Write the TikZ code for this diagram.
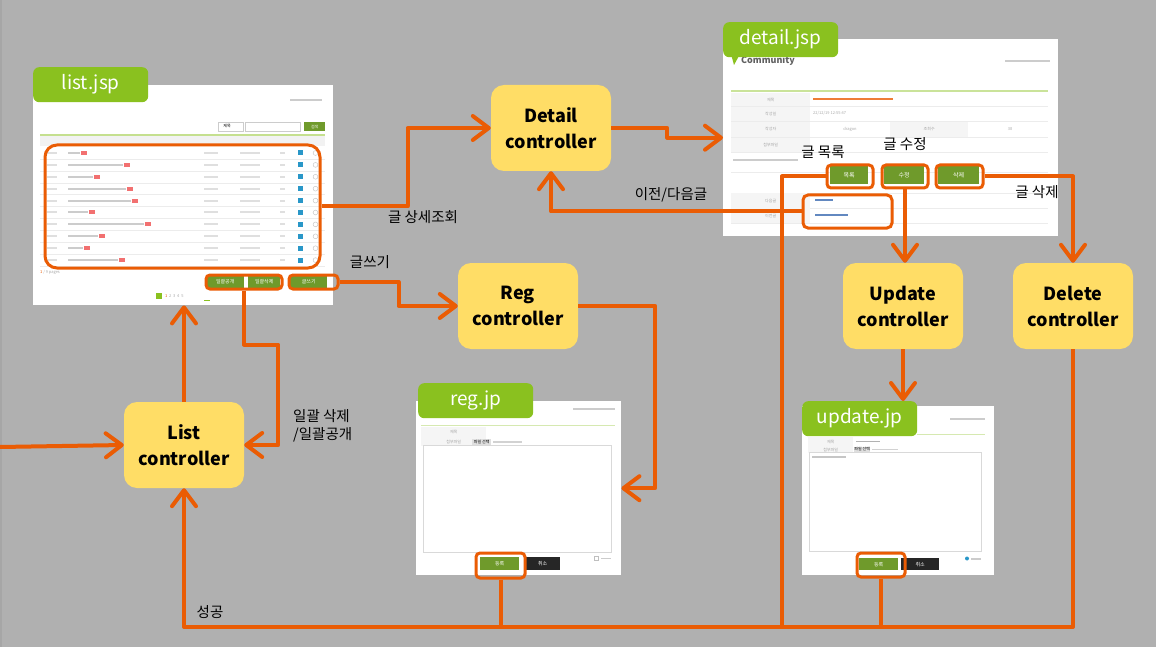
\documentclass[tikz,border=0pt]{standalone}
\usepackage{fontspec}
\setmainfont{Noto Sans CJK KR}
\usetikzlibrary{arrows.meta,positioning}
\definecolor{bgc}{HTML}{B0B0B0}
\definecolor{flowc}{HTML}{EA5C04}
\definecolor{ctlc}{HTML}{FFDD66}
\definecolor{tabc}{HTML}{8AC11F}
\definecolor{btnc}{HTML}{6F9A2B}
\definecolor{linkc}{HTML}{3B6AB0}
\definecolor{redc}{HTML}{F27070}
\tikzset{
  ctl/.style={fill=ctlc, rounded corners=13pt, minimum width=120pt, minimum height=86pt,
    align=center, font=\bfseries\fontsize{18}{26}\selectfont},
  page/.style={fill=white, inner sep=0pt, anchor=north west},
  pagetab/.style={fill=tabc, rounded corners=6pt, inner sep=0pt, anchor=north west,
    minimum width=115pt, minimum height=35pt, text=white, font=\fontsize{19}{20}\selectfont},
  hl/.style={draw=flowc, line width=3pt, rounded corners=4pt, inner sep=0pt, anchor=north west},
  btn/.style={fill=btnc, text=white, inner sep=0pt, anchor=north west, font=\fontsize{5}{5}\selectfont},
  cell/.style={fill=gray!8, inner sep=0pt, anchor=north west, text=gray!70, font=\fontsize{4}{4}\selectfont},
  tinytxt/.style={inner sep=0pt, text=gray!65, font=\fontsize{4}{4}\selectfont},
  bar/.style={fill=gray!40},
  flow/.style={draw=flowc, line width=4pt, line join=round},
  arr/.style={-{Straight Barb[length=16pt,width=24pt,round]}},
  lbl/.style={inner sep=0pt, font=\fontsize{14.5}{18}\selectfont}
}
\begin{document}
\begin{tikzpicture}[x=1pt,y=-1pt]
\useasboundingbox (0,0) rectangle (1156,647);
\fill[bgc] (0,0) rectangle (1156,647);
\fill[gray!70] (0,0) rectangle (2,647);

% list.jsp
\node[page, minimum width=300pt, minimum height=220pt] (listpage) at (33,85) {};
\fill[bar] (290,99) rectangle (322,101.5);
\draw[gray!40, line width=.4pt] (218,122) rectangle (243,131);
\node[tinytxt, text=black] (searchsel) at (227,126.5) {제목};
\draw[gray!40, line width=.4pt] (245,122) rectangle (300,131);
\node[btn, minimum width=21pt, minimum height=9pt, font=\fontsize{4}{4}\selectfont] (searchbtn) at (304,122) {검색};
\draw[tabc!50, line width=1.2pt] (40,135) -- (325,135);
\fill[gray!10] (40,136.5) rectangle (325,146);
\foreach \w [count=\i from 0] in {12,55,25,58,63,20,76,30,15,50} {
  \pgfmathsetmacro\ry{153+11.9*\i}
  \draw[gray!15, line width=.4pt] (40,\ry+6) -- (325,\ry+6);
  \fill[gray!25] (47,\ry-1) rectangle (57,\ry+1);
  \fill[bar] (68,\ry-1) rectangle (68+\w,\ry+1);
  \fill[redc] (69+\w,\ry-2) rectangle (75+\w,\ry+2);
  \fill[gray!25] (204,\ry-1) rectangle (218,\ry+1);
  \fill[gray!25] (240,\ry-1) rectangle (260,\ry+1);
  \fill[gray!25] (280,\ry-1) rectangle (285,\ry+1);
  \fill[linkc!70!cyan] (298,\ry-2.5) rectangle (303,\ry+2.5);
  \draw[gray!50, line width=.4pt] (315.5,\ry) circle (2.4);
}
\node[tinytxt, anchor=west] (pagecount) at (40,272) {\textcolor{flowc}{1} / 9 pages};
\node[btn, minimum width=38pt, minimum height=13pt] (openbtn) at (206,275) {일괄공개};
\node[btn, minimum width=32pt, minimum height=13pt] (dropbtn) at (248,275) {일괄삭제};
\node[btn, minimum width=37pt, minimum height=13pt] (writebtn) at (290,275) {글쓰기};
\fill[tabc] (156,293) rectangle (162,299);
\node[tinytxt, anchor=west] (pagenums) at (165,296) {\textcolor{flowc}{1}\ \ 2\ \ 3\ \ 4\ \ 5};
\draw[tabc, line width=.6pt] (204,300) -- (210,300);
\node[hl, rounded corners=12pt, minimum width=275pt, minimum height=123pt] (rowsbox) at (43.5,143.5) {};
\node[hl, minimum width=76pt, minimum height=14pt] (bulkbox) at (204.5,273.5) {};
\node[hl, minimum width=49pt, minimum height=14pt] (writebox) at (287.5,273.5) {};
\node[pagetab] (listtab) at (33,67) {list.jsp};

% detail.jsp
\node[page, minimum width=335pt, minimum height=197pt] (detailpage) at (723,39) {};
\fill[tabc] (731,54) -- (740,54) -- (734,65) -- cycle;
\node[inner sep=0pt, anchor=west, text=gray!75!black, font=\bfseries\fontsize{9}{9}\selectfont] (community) at (741,61) {Community};
\fill[bar] (1005,60) rectangle (1050,62);
\draw[tabc!45, line width=1.5pt] (731,91) -- (1048,91);
\node[cell, minimum width=79pt, minimum height=13pt] (celltitle) at (731,93) {제목};
\node[cell, minimum width=79pt, minimum height=15pt] (celldate) at (731,106) {작성일};
\node[cell, minimum width=79pt, minimum height=16pt] (cellwriter) at (731,121) {작성자};
\node[cell, minimum width=79pt, minimum height=15pt] (cellfile) at (731,137) {첨부파일};
\node[cell, minimum width=78pt, minimum height=16pt] (cellhits) at (890,121) {조회수};
\foreach \ry in {106,121,137,152,172,193,208,223}
  \draw[gray!15, line width=.4pt] (731,\ry) -- (1048,\ry);
\fill[flowc!80] (813,98.5) rectangle (893,100.5);
\node[tinytxt, anchor=west] (datetxt) at (813,113.5) {22/12/19 12:55:47};
\node[tinytxt] (writertxt) at (850,129) {dragon};
\node[tinytxt] (hitstxt) at (1010,129) {38};
\fill[bar] (733,159) rectangle (798,161);
\node[cell, minimum width=79pt, minimum height=15pt] (cellnext) at (731,193) {다음글};
\node[cell, minimum width=79pt, minimum height=15pt] (cellprev) at (731,208) {이전글};
\fill[linkc!80] (815,199.5) rectangle (833,201);
\fill[linkc!80] (815,214.5) rectangle (848,216);
\node[btn, minimum width=38pt, minimum height=18pt, font=\fontsize{6}{6}\selectfont] (listbtnin) at (830,166) {목록};
\node[btn, minimum width=40pt, minimum height=18pt, font=\fontsize{6}{6}\selectfont] (editbtnin) at (884,166) {수정};
\node[btn, minimum width=41pt, minimum height=18pt, font=\fontsize{6}{6}\selectfont] (delbtnin) at (938,166) {삭제};
\node[hl, minimum width=46pt, minimum height=23pt] (listbtn) at (825.5,163.5) {};
\node[hl, minimum width=46pt, minimum height=23pt] (editbtn) at (880.5,163.5) {};
\node[hl, minimum width=47pt, minimum height=23pt] (delbtn) at (934.5,163.5) {};
\node[hl, rounded corners=5pt, minimum width=89pt, minimum height=33pt] (navbox) at (801.5,193.5) {};
\node[pagetab] (detailtab) at (723,22) {detail.jsp};

% reg.jp
\node[page, minimum width=205pt, minimum height=174pt] (regpage) at (416,401) {};
\fill[bar] (573,408) rectangle (615,410);
\draw[tabc!35, line width=1pt] (421,425) -- (615,425);
\node[cell, minimum width=65pt, minimum height=10pt] (regcellt) at (421,427) {제목};
\node[cell, minimum width=65pt, minimum height=9pt] (regcellf) at (421,437) {첨부파일};
\node[cell, fill=gray!25, text=black, minimum width=19pt, minimum height=6pt] (regfile) at (472,438.5) {파일 선택};
\fill[gray!35] (493,441) rectangle (522,442.5);
\draw[gray!30, line width=.6pt] (423,445) rectangle (611,552);
\draw[gray!50, line width=.4pt] (594,556) rectangle (598,560);
\fill[bar] (601,557.5) rectangle (611,559);
\node[btn, minimum width=39pt, minimum height=13pt] (regokbtn) at (480,557) {등록};
\node[btn, fill=black!85, minimum width=35pt, minimum height=13pt] (regnobtn) at (525,557) {취소};
\node[hl, minimum width=49pt, minimum height=25pt] (regok) at (474.5,551.5) {};
\node[pagetab] (regtab) at (418,383) {reg.jp};

% update.jp
\node[page, minimum width=192pt, minimum height=169pt] (updpage) at (802,406) {};
\fill[bar] (950,418) rectangle (985,420);
\draw[tabc!35, line width=1pt] (917,434) -- (985,434);
\node[cell, minimum width=45pt, minimum height=9pt] (updcellt) at (808,437) {제목};
\node[cell, minimum width=45pt, minimum height=7pt] (updcellf) at (808,446) {첨부파일};
\fill[gray!60] (856,440.5) rectangle (880,442);
\node[cell, fill=gray!25, text=black, minimum width=16pt, minimum height=5pt] (updfile) at (854,446.5) {파일 선택};
\fill[gray!35] (872,448.5) rectangle (898,450);
\draw[gray!30, line width=.6pt] (809,452) rectangle (981,551);
\fill[gray!45] (812,456) rectangle (846,457.5);
\fill[linkc!70!cyan] (967,558.5) circle (2);
\fill[bar] (971,558) rectangle (981,559.5);
\node[btn, minimum width=39pt, minimum height=12pt] (updokbtn) at (859,558) {등록};
\node[btn, fill=black!85, minimum width=38pt, minimum height=12pt] (updnobtn) at (901,558) {취소};
\node[hl, minimum width=48pt, minimum height=24pt] (updok) at (855.5,551.5) {};
\node[pagetab] (updtab) at (802,401) {update.jp};

% controllers
\node[ctl] (detailctl) at (551,128) {Detail\\controller};
\node[ctl] (regctl) at (518,306) {Reg\\controller};
\node[ctl] (listctl) at (184,445) {List\\controller};
\node[ctl] (updctl) at (903,306) {Update\\controller};
\node[ctl] (delctl) at (1073,306) {Delete\\controller};

% connectors
\coordinate (entry) at (0,447);
\coordinate (busL) at (184,627);
\coordinate (busM) at (782,627);
\draw[flow,arr] (entry) -- (listctl.west);
\draw[flow,arr] (listctl.north) -- (listctl.north |- listpage.south);
\draw[flow,arr] (bulkbox.south) -- ++(0,54) -| ([xshift=34pt]listctl.east) -- (listctl.east);
\draw[flow,arr] (rowsbox.east) -- ++(86,0) |- (detailctl.west);
\draw[flow,arr] (writebox.east) -- ++(59,0) |- (regctl.west);
\draw[flow,arr] (detailctl.east) -- ++(56,0) |- (detailpage.west);
\draw[flow,arr] (navbox.west) -| (detailctl.south);
\draw[flow,arr] (editbtn.south) -- (editbtn.south |- updctl.north);
\draw[flow,arr] (delbtn.east) -| (delctl.north);
\draw[flow,arr] (updctl.south) -- (updctl.south |- updtab.north);
\draw[flow,arr] (regctl.east) -- ++(77,0) |- (regpage.east);
\draw[flow] (listbtn.west) -| (busM);
\draw[flow] (regok.south) -- (regok.south |- busL);
\draw[flow] (updok.south) -- (updok.south |- busL);
\draw[flow,arr] (delctl.south) |- (busL) -- (listctl.south);

% labels
\node[lbl] (lbldetail) at (423,217) {글 상세조회};
\node[lbl] (lblwrite) at (370,262) {글쓰기};
\node[lbl, align=left, anchor=west] (lblbulk) at (293,426) {일괄 삭제\\/일괄공개};
\node[lbl] (lblnav) at (671,195) {이전/다음글};
\node[lbl] (lbllist) at (823,152) {글 목록};
\node[lbl] (lbledit) at (905,144) {글 수정};
\node[lbl] (lbldel) at (1037,192) {글 삭제};
\node[lbl] (lblok) at (210,612) {성공};
\end{tikzpicture}
\end{document}
